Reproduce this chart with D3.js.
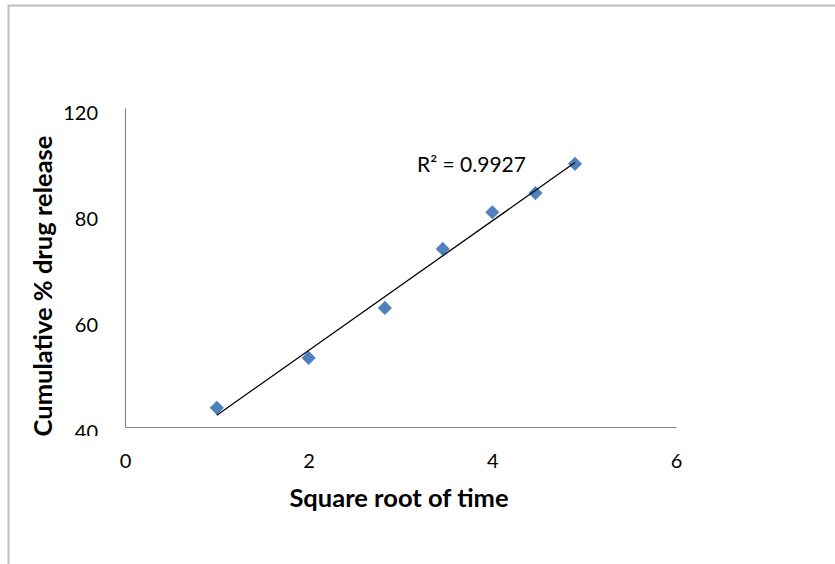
<!DOCTYPE html>
<html>
<head>
<meta charset="utf-8">
<script src="https://cdn.jsdelivr.net/npm/d3@7"></script>
<style>
  body { margin: 0; background: #fff; }
  svg { display: block; }
</style>
</head>
<body>
<script>
// Release data: square root of time vs cumulative % drug release
const sqrtTime = [1, 2, 2.83, 3.46, 4, 4.47, 4.90];
const cumulativeRelease = [43.6, 53.0, 62.4, 73.5, 80.4, 84.0, 89.5];

// Axis ticks and their printed labels
const xTicks = [0, 2, 4, 6];
const yTicks = [40, 60, 80, 100];
const yTickLabels = ["40", "60", "80", "120"];
const r2Label = "R² = 0.9927";

const W = 835, H = 564;
const plot = { left: 125, right: 676, top: 108, bottom: 427 };
const font = "Lato, 'Open Sans', sans-serif";

const svg = d3.select("body").append("svg")
  .attr("width", W).attr("height", H);

// Outer frame (top and left edges visible)
svg.append("path")
  .attr("d", `M8.5,${H} V5.5 H${W}`)
  .attr("fill", "none")
  .attr("stroke", "#bdbdbd")
  .attr("stroke-width", 2);

const x = d3.scaleLinear().domain([0, 6]).range([plot.left, plot.right]);
const y = d3.scaleLinear().domain([40, 100]).range([plot.bottom, plot.top]);

// Clip for the lowest y label (coordinates local to the axis group)
svg.append("clipPath").attr("id", "ylab-clip")
  .append("rect").attr("x", -plot.left).attr("y", 0).attr("width", plot.left + 5).attr("height", 436);

// Y axis
const yAxis = svg.append("g")
  .attr("transform", `translate(${plot.left},0)`)
  .attr("clip-path", "url(#ylab-clip)")
  .call(d3.axisLeft(y).tickValues(yTicks)
    .tickFormat((d, i) => yTickLabels[i])
    .tickSize(0).tickSizeOuter(0).tickPadding(27));
yAxis.select(".domain").attr("stroke", "#868686").attr("stroke-width", 1.2);
yAxis.selectAll("text")
  .attr("dy", null).attr("y", 11)
  .attr("font-family", font).attr("font-size", 20).attr("fill", "#000");

// X axis
const xAxis = svg.append("g")
  .attr("transform", `translate(0,${plot.bottom})`)
  .call(d3.axisBottom(x).tickValues(xTicks).tickFormat(d3.format("d"))
    .tickSize(0).tickSizeOuter(0));
xAxis.select(".domain").attr("stroke", "#868686").attr("stroke-width", 1.2);
xAxis.selectAll("text")
  .attr("dy", null).attr("y", 41)
  .attr("font-family", font).attr("font-size", 20).attr("fill", "#000");

// Linear trendline (least squares)
const n = sqrtTime.length;
const mx = d3.mean(sqrtTime), my = d3.mean(cumulativeRelease);
let sxy = 0, sxx = 0;
for (let i = 0; i < n; i++) {
  sxy += (sqrtTime[i] - mx) * (cumulativeRelease[i] - my);
  sxx += (sqrtTime[i] - mx) ** 2;
}
const slope = sxy / sxx, intercept = my - slope * mx;
const xMin = d3.min(sqrtTime), xMax = d3.max(sqrtTime);

// Markers
svg.append("g").selectAll("path")
  .data(sqrtTime.map((t, i) => [t, cumulativeRelease[i]]))
  .join("path")
  .attr("d", d3.symbol(d3.symbolSquare, 100))
  .attr("transform", d => `translate(${x(d[0])},${y(d[1])}) rotate(45)`)
  .attr("fill", "#4f81bd");

svg.append("line")
  .attr("x1", x(xMin)).attr("y1", y(intercept + slope * xMin))
  .attr("x2", x(xMax)).attr("y2", y(intercept + slope * xMax))
  .attr("stroke", "#000").attr("stroke-width", 1.3);

// R² annotation
svg.append("text")
  .attr("x", 417).attr("y", 172)
  .attr("font-family", font).attr("font-size", 21).attr("fill", "#000")
  .text(r2Label);

// Axis titles
svg.append("text")
  .attr("x", 399).attr("y", 507)
  .attr("text-anchor", "middle")
  .attr("font-family", font).attr("font-size", 25.5).attr("font-weight", "bold")
  .text("Square root of time");

svg.append("text")
  .attr("transform", "translate(52,286) rotate(-90)")
  .attr("text-anchor", "middle")
  .attr("font-family", font).attr("font-size", 25.5).attr("font-weight", "bold")
  .text("Cumulative % drug release");
</script>
</body>
</html>
